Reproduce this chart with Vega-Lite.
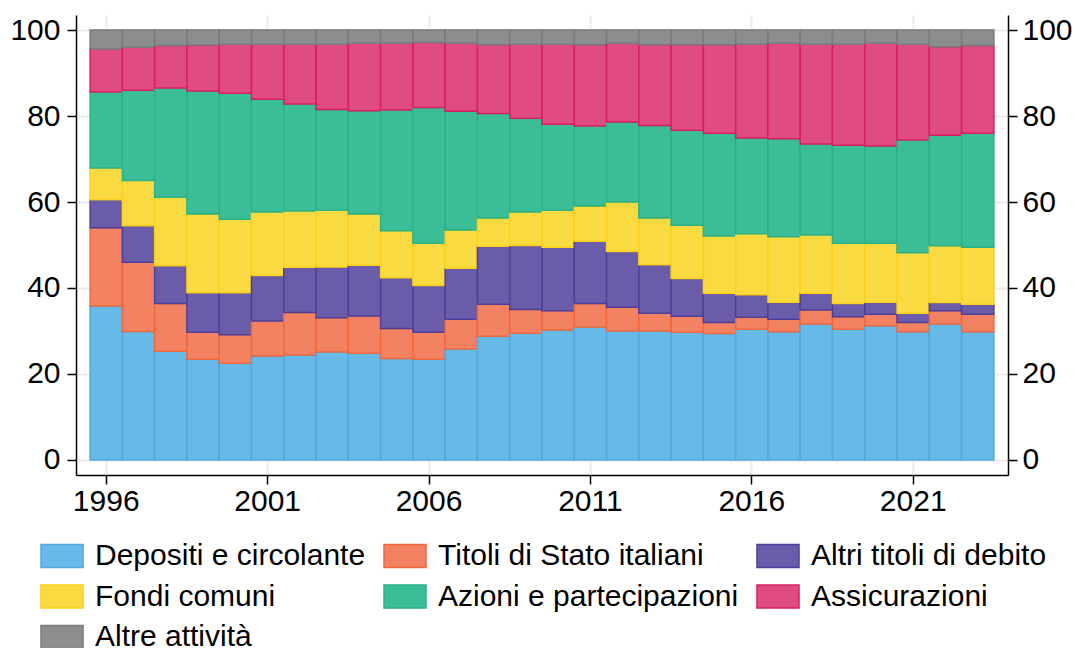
{
  "$schema": "https://vega.github.io/schema/vega-lite/v6.json",
  "width": 932,
  "height": 460,
  "autosize": {"type": "none"},
  "padding": {"left": 76, "top": 15, "right": 70, "bottom": 173},
  "background": "white",
  "config": {
    "view": {"stroke": null},
    "font": "Liberation Sans",
    "axis": {
      "labelFont": "Liberation Sans",
      "labelFontSize": 30,
      "labelColor": "black",
      "domainColor": "black",
      "domainWidth": 1.5,
      "tickColor": "black",
      "tickWidth": 1.5,
      "tickSize": 9,
      "gridColor": "#ebebeb",
      "gridWidth": 2,
      "title": null
    }
  },
  "data": {
    "values": [
      {"yr":1996,"k":1,"c":"Depositi e circolante","v":35.8},{"yr":1996,"k":2,"c":"Titoli di Stato italiani","v":18.2},{"yr":1996,"k":3,"c":"Altri titoli di debito","v":6.5},{"yr":1996,"k":4,"c":"Fondi comuni","v":7.4},{"yr":1996,"k":5,"c":"Azioni e partecipazioni","v":17.7},{"yr":1996,"k":6,"c":"Assicurazioni","v":10.0},{"yr":1996,"k":7,"c":"Altre attività","v":4.4},
      {"yr":1997,"k":1,"c":"Depositi e circolante","v":29.9},{"yr":1997,"k":2,"c":"Titoli di Stato italiani","v":16.1},{"yr":1997,"k":3,"c":"Altri titoli di debito","v":8.5},{"yr":1997,"k":4,"c":"Fondi comuni","v":10.5},{"yr":1997,"k":5,"c":"Azioni e partecipazioni","v":21.0},{"yr":1997,"k":6,"c":"Assicurazioni","v":10.0},{"yr":1997,"k":7,"c":"Altre attività","v":4.0},
      {"yr":1998,"k":1,"c":"Depositi e circolante","v":25.3},{"yr":1998,"k":2,"c":"Titoli di Stato italiani","v":11.1},{"yr":1998,"k":3,"c":"Altri titoli di debito","v":8.8},{"yr":1998,"k":4,"c":"Fondi comuni","v":15.9},{"yr":1998,"k":5,"c":"Azioni e partecipazioni","v":25.4},{"yr":1998,"k":6,"c":"Assicurazioni","v":9.9},{"yr":1998,"k":7,"c":"Altre attività","v":3.6},
      {"yr":1999,"k":1,"c":"Depositi e circolante","v":23.4},{"yr":1999,"k":2,"c":"Titoli di Stato italiani","v":6.3},{"yr":1999,"k":3,"c":"Altri titoli di debito","v":9.2},{"yr":1999,"k":4,"c":"Fondi comuni","v":18.3},{"yr":1999,"k":5,"c":"Azioni e partecipazioni","v":28.6},{"yr":1999,"k":6,"c":"Assicurazioni","v":10.7},{"yr":1999,"k":7,"c":"Altre attività","v":3.5},
      {"yr":2000,"k":1,"c":"Depositi e circolante","v":22.5},{"yr":2000,"k":2,"c":"Titoli di Stato italiani","v":6.6},{"yr":2000,"k":3,"c":"Altri titoli di debito","v":9.8},{"yr":2000,"k":4,"c":"Fondi comuni","v":17.1},{"yr":2000,"k":5,"c":"Azioni e partecipazioni","v":29.3},{"yr":2000,"k":6,"c":"Assicurazioni","v":11.4},{"yr":2000,"k":7,"c":"Altre attività","v":3.3},
      {"yr":2001,"k":1,"c":"Depositi e circolante","v":24.2},{"yr":2001,"k":2,"c":"Titoli di Stato italiani","v":8.1},{"yr":2001,"k":3,"c":"Altri titoli di debito","v":10.6},{"yr":2001,"k":4,"c":"Fondi comuni","v":14.8},{"yr":2001,"k":5,"c":"Azioni e partecipazioni","v":26.2},{"yr":2001,"k":6,"c":"Assicurazioni","v":12.8},{"yr":2001,"k":7,"c":"Altre attività","v":3.3},
      {"yr":2002,"k":1,"c":"Depositi e circolante","v":24.4},{"yr":2002,"k":2,"c":"Titoli di Stato italiani","v":9.9},{"yr":2002,"k":3,"c":"Altri titoli di debito","v":10.5},{"yr":2002,"k":4,"c":"Fondi comuni","v":13.1},{"yr":2002,"k":5,"c":"Azioni e partecipazioni","v":24.9},{"yr":2002,"k":6,"c":"Assicurazioni","v":13.9},{"yr":2002,"k":7,"c":"Altre attività","v":3.3},
      {"yr":2003,"k":1,"c":"Depositi e circolante","v":25.1},{"yr":2003,"k":2,"c":"Titoli di Stato italiani","v":8.0},{"yr":2003,"k":3,"c":"Altri titoli di debito","v":11.8},{"yr":2003,"k":4,"c":"Fondi comuni","v":13.2},{"yr":2003,"k":5,"c":"Azioni e partecipazioni","v":23.4},{"yr":2003,"k":6,"c":"Assicurazioni","v":15.2},{"yr":2003,"k":7,"c":"Altre attività","v":3.3},
      {"yr":2004,"k":1,"c":"Depositi e circolante","v":24.8},{"yr":2004,"k":2,"c":"Titoli di Stato italiani","v":8.7},{"yr":2004,"k":3,"c":"Altri titoli di debito","v":11.8},{"yr":2004,"k":4,"c":"Fondi comuni","v":11.9},{"yr":2004,"k":5,"c":"Azioni e partecipazioni","v":24.0},{"yr":2004,"k":6,"c":"Assicurazioni","v":15.7},{"yr":2004,"k":7,"c":"Altre attività","v":3.1},
      {"yr":2005,"k":1,"c":"Depositi e circolante","v":23.6},{"yr":2005,"k":2,"c":"Titoli di Stato italiani","v":7.0},{"yr":2005,"k":3,"c":"Altri titoli di debito","v":11.8},{"yr":2005,"k":4,"c":"Fondi comuni","v":10.9},{"yr":2005,"k":5,"c":"Azioni e partecipazioni","v":28.1},{"yr":2005,"k":6,"c":"Assicurazioni","v":15.5},{"yr":2005,"k":7,"c":"Altre attività","v":3.1},
      {"yr":2006,"k":1,"c":"Depositi e circolante","v":23.4},{"yr":2006,"k":2,"c":"Titoli di Stato italiani","v":6.3},{"yr":2006,"k":3,"c":"Altri titoli di debito","v":10.9},{"yr":2006,"k":4,"c":"Fondi comuni","v":9.8},{"yr":2006,"k":5,"c":"Azioni e partecipazioni","v":31.6},{"yr":2006,"k":6,"c":"Assicurazioni","v":15.1},{"yr":2006,"k":7,"c":"Altre attività","v":2.9},
      {"yr":2007,"k":1,"c":"Depositi e circolante","v":25.8},{"yr":2007,"k":2,"c":"Titoli di Stato italiani","v":6.9},{"yr":2007,"k":3,"c":"Altri titoli di debito","v":11.9},{"yr":2007,"k":4,"c":"Fondi comuni","v":8.9},{"yr":2007,"k":5,"c":"Azioni e partecipazioni","v":27.6},{"yr":2007,"k":6,"c":"Assicurazioni","v":15.8},{"yr":2007,"k":7,"c":"Altre attività","v":3.1},
      {"yr":2008,"k":1,"c":"Depositi e circolante","v":28.8},{"yr":2008,"k":2,"c":"Titoli di Stato italiani","v":7.4},{"yr":2008,"k":3,"c":"Altri titoli di debito","v":13.5},{"yr":2008,"k":4,"c":"Fondi comuni","v":6.6},{"yr":2008,"k":5,"c":"Azioni e partecipazioni","v":24.3},{"yr":2008,"k":6,"c":"Assicurazioni","v":16.0},{"yr":2008,"k":7,"c":"Altre attività","v":3.4},
      {"yr":2009,"k":1,"c":"Depositi e circolante","v":29.5},{"yr":2009,"k":2,"c":"Titoli di Stato italiani","v":5.5},{"yr":2009,"k":3,"c":"Altri titoli di debito","v":14.9},{"yr":2009,"k":4,"c":"Fondi comuni","v":7.8},{"yr":2009,"k":5,"c":"Azioni e partecipazioni","v":21.8},{"yr":2009,"k":6,"c":"Assicurazioni","v":17.2},{"yr":2009,"k":7,"c":"Altre attività","v":3.3},
      {"yr":2010,"k":1,"c":"Depositi e circolante","v":30.2},{"yr":2010,"k":2,"c":"Titoli di Stato italiani","v":4.5},{"yr":2010,"k":3,"c":"Altri titoli di debito","v":14.8},{"yr":2010,"k":4,"c":"Fondi comuni","v":8.6},{"yr":2010,"k":5,"c":"Azioni e partecipazioni","v":20.0},{"yr":2010,"k":6,"c":"Assicurazioni","v":18.6},{"yr":2010,"k":7,"c":"Altre attività","v":3.3},
      {"yr":2011,"k":1,"c":"Depositi e circolante","v":30.9},{"yr":2011,"k":2,"c":"Titoli di Stato italiani","v":5.5},{"yr":2011,"k":3,"c":"Altri titoli di debito","v":14.5},{"yr":2011,"k":4,"c":"Fondi comuni","v":8.2},{"yr":2011,"k":5,"c":"Azioni e partecipazioni","v":18.6},{"yr":2011,"k":6,"c":"Assicurazioni","v":18.9},{"yr":2011,"k":7,"c":"Altre attività","v":3.4},
      {"yr":2012,"k":1,"c":"Depositi e circolante","v":30.0},{"yr":2012,"k":2,"c":"Titoli di Stato italiani","v":5.5},{"yr":2012,"k":3,"c":"Altri titoli di debito","v":13.0},{"yr":2012,"k":4,"c":"Fondi comuni","v":11.5},{"yr":2012,"k":5,"c":"Azioni e partecipazioni","v":18.6},{"yr":2012,"k":6,"c":"Assicurazioni","v":18.3},{"yr":2012,"k":7,"c":"Altre attività","v":3.1},
      {"yr":2013,"k":1,"c":"Depositi e circolante","v":30.0},{"yr":2013,"k":2,"c":"Titoli di Stato italiani","v":4.1},{"yr":2013,"k":3,"c":"Altri titoli di debito","v":11.3},{"yr":2013,"k":4,"c":"Fondi comuni","v":10.9},{"yr":2013,"k":5,"c":"Azioni e partecipazioni","v":21.5},{"yr":2013,"k":6,"c":"Assicurazioni","v":18.8},{"yr":2013,"k":7,"c":"Altre attività","v":3.4},
      {"yr":2014,"k":1,"c":"Depositi e circolante","v":29.7},{"yr":2014,"k":2,"c":"Titoli di Stato italiani","v":3.7},{"yr":2014,"k":3,"c":"Altri titoli di debito","v":8.8},{"yr":2014,"k":4,"c":"Fondi comuni","v":12.4},{"yr":2014,"k":5,"c":"Azioni e partecipazioni","v":22.1},{"yr":2014,"k":6,"c":"Assicurazioni","v":19.9},{"yr":2014,"k":7,"c":"Altre attività","v":3.4},
      {"yr":2015,"k":1,"c":"Depositi e circolante","v":29.4},{"yr":2015,"k":2,"c":"Titoli di Stato italiani","v":2.6},{"yr":2015,"k":3,"c":"Altri titoli di debito","v":6.8},{"yr":2015,"k":4,"c":"Fondi comuni","v":13.3},{"yr":2015,"k":5,"c":"Azioni e partecipazioni","v":23.9},{"yr":2015,"k":6,"c":"Assicurazioni","v":20.6},{"yr":2015,"k":7,"c":"Altre attività","v":3.4},
      {"yr":2016,"k":1,"c":"Depositi e circolante","v":30.4},{"yr":2016,"k":2,"c":"Titoli di Stato italiani","v":2.8},{"yr":2016,"k":3,"c":"Altri titoli di debito","v":5.2},{"yr":2016,"k":4,"c":"Fondi comuni","v":14.2},{"yr":2016,"k":5,"c":"Azioni e partecipazioni","v":22.3},{"yr":2016,"k":6,"c":"Assicurazioni","v":21.8},{"yr":2016,"k":7,"c":"Altre attività","v":3.3},
      {"yr":2017,"k":1,"c":"Depositi e circolante","v":29.8},{"yr":2017,"k":2,"c":"Titoli di Stato italiani","v":2.9},{"yr":2017,"k":3,"c":"Altri titoli di debito","v":4.0},{"yr":2017,"k":4,"c":"Fondi comuni","v":15.2},{"yr":2017,"k":5,"c":"Azioni e partecipazioni","v":22.8},{"yr":2017,"k":6,"c":"Assicurazioni","v":22.2},{"yr":2017,"k":7,"c":"Altre attività","v":3.1},
      {"yr":2018,"k":1,"c":"Depositi e circolante","v":31.6},{"yr":2018,"k":2,"c":"Titoli di Stato italiani","v":3.3},{"yr":2018,"k":3,"c":"Altri titoli di debito","v":3.9},{"yr":2018,"k":4,"c":"Fondi comuni","v":13.5},{"yr":2018,"k":5,"c":"Azioni e partecipazioni","v":21.2},{"yr":2018,"k":6,"c":"Assicurazioni","v":23.2},{"yr":2018,"k":7,"c":"Altre attività","v":3.3},
      {"yr":2019,"k":1,"c":"Depositi e circolante","v":30.4},{"yr":2019,"k":2,"c":"Titoli di Stato italiani","v":2.9},{"yr":2019,"k":3,"c":"Altri titoli di debito","v":3.1},{"yr":2019,"k":4,"c":"Fondi comuni","v":14.0},{"yr":2019,"k":5,"c":"Azioni e partecipazioni","v":22.8},{"yr":2019,"k":6,"c":"Assicurazioni","v":23.5},{"yr":2019,"k":7,"c":"Altre attività","v":3.3},
      {"yr":2020,"k":1,"c":"Depositi e circolante","v":31.2},{"yr":2020,"k":2,"c":"Titoli di Stato italiani","v":2.7},{"yr":2020,"k":3,"c":"Altri titoli di debito","v":2.8},{"yr":2020,"k":4,"c":"Fondi comuni","v":13.7},{"yr":2020,"k":5,"c":"Azioni e partecipazioni","v":22.6},{"yr":2020,"k":6,"c":"Assicurazioni","v":23.9},{"yr":2020,"k":7,"c":"Altre attività","v":3.1},
      {"yr":2021,"k":1,"c":"Depositi e circolante","v":29.8},{"yr":2021,"k":2,"c":"Titoli di Stato italiani","v":2.2},{"yr":2021,"k":3,"c":"Altri titoli di debito","v":2.1},{"yr":2021,"k":4,"c":"Fondi comuni","v":14.1},{"yr":2021,"k":5,"c":"Azioni e partecipazioni","v":26.2},{"yr":2021,"k":6,"c":"Assicurazioni","v":22.3},{"yr":2021,"k":7,"c":"Altre attività","v":3.3},
      {"yr":2022,"k":1,"c":"Depositi e circolante","v":31.6},{"yr":2022,"k":2,"c":"Titoli di Stato italiani","v":3.1},{"yr":2022,"k":3,"c":"Altri titoli di debito","v":1.9},{"yr":2022,"k":4,"c":"Fondi comuni","v":13.2},{"yr":2022,"k":5,"c":"Azioni e partecipazioni","v":25.7},{"yr":2022,"k":6,"c":"Assicurazioni","v":20.6},{"yr":2022,"k":7,"c":"Altre attività","v":3.9},
      {"yr":2023,"k":1,"c":"Depositi e circolante","v":29.8},{"yr":2023,"k":2,"c":"Titoli di Stato italiani","v":4.1},{"yr":2023,"k":3,"c":"Altri titoli di debito","v":2.3},{"yr":2023,"k":4,"c":"Fondi comuni","v":13.3},{"yr":2023,"k":5,"c":"Azioni e partecipazioni","v":26.5},{"yr":2023,"k":6,"c":"Assicurazioni","v":20.4},{"yr":2023,"k":7,"c":"Altre attività","v":3.6}
    ]
  },
  "encoding": {
    "x": {
      "field": "yr",
      "type": "ordinal",
      "scale": {"paddingInner": 0, "paddingOuter": 0.437},
      "axis": {
        "values": [1996, 2001, 2006, 2011, 2016, 2021],
        "labelAngle": 0,
        "labelPadding": 2,
        "grid": true,
        "zindex": 0
      }
    },
    "y": {
      "field": "v",
      "type": "quantitative",
      "stack": "zero",
      "scale": {"domain": [-3.5, 103.5], "nice": false, "zero": false},
      "axis": {
        "values": [0, 20, 40, 60, 80, 100],
        "orient": "left",
        "labelPadding": 7,
        "grid": true,
        "zindex": 0
      }
    },
    "order": {"field": "k", "type": "quantitative"}
  },
  "layer": [
    {
      "mark": {"type": "bar", "strokeWidth": 1.5, "opacity": 1},
      "encoding": {
        "color": {
          "field": "c",
          "type": "nominal",
          "sort": null,
          "scale": {
            "domain": ["Depositi e circolante", "Titoli di Stato italiani", "Altri titoli di debito", "Fondi comuni", "Azioni e partecipazioni", "Assicurazioni", "Altre attività"],
            "range": ["#67b9e8", "#f38262", "#6a5ca8", "#f9da40", "#3bbd97", "#e04c82", "#8c8d8e"]
          },
          "legend": {
            "orient": "none",
            "legendX": -36,
            "legendY": 519,
            "columns": 3,
            "direction": "horizontal",
            "title": null,
            "padding": 0,
            "symbolType": "M-1,-0.55H1V0.55H-1Z",
            "symbolSize": 1764,
            "symbolStrokeWidth": 1.5,
            "symbolOpacity": 1,
            "labelFont": "Liberation Sans",
            "labelFontSize": 30,
            "labelColor": "black",
            "labelLimit": 500,
            "labelOffset": 11,
            "columnPadding": 15,
            "rowPadding": 3.5
          }
        },
        "stroke": {
          "field": "c",
          "type": "nominal",
          "sort": null,
          "scale": {
            "domain": ["Depositi e circolante", "Titoli di Stato italiani", "Altri titoli di debito", "Fondi comuni", "Azioni e partecipazioni", "Assicurazioni", "Altre attività"],
            "range": ["#4eaadf", "#f0693e", "#4e3f9b", "#fcd01c", "#2ab384", "#d81f63", "#7a7b7c"]
          },
          "legend": null
        }
      }
    },
    {
      "mark": {"type": "bar", "opacity": 0},
      "encoding": {
        "y": {
          "field": "v",
          "type": "quantitative",
          "stack": "zero",
          "axis": {
            "values": [0, 20, 40, 60, 80, 100],
            "orient": "right",
            "labelPadding": 5,
            "grid": false
          }
        }
      }
    }
  ],
  "resolve": {"axis": {"y": "independent"}}
}
